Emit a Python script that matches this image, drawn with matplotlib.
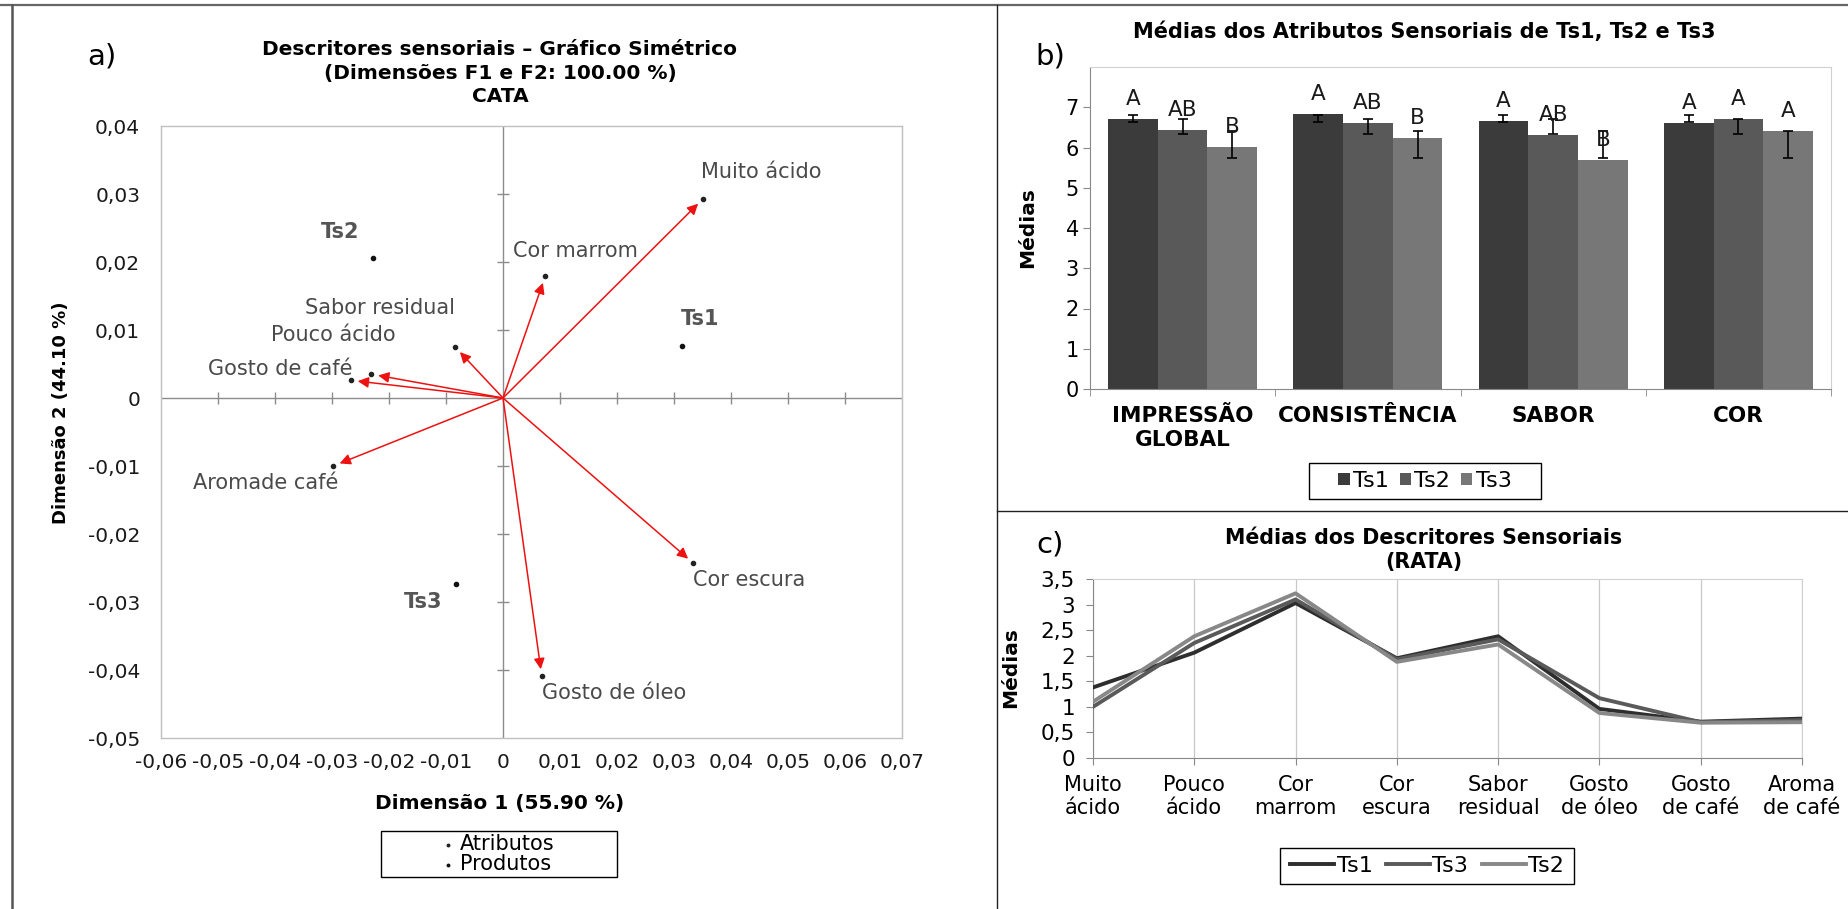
import numpy as np
import matplotlib
matplotlib.use('Agg')
import matplotlib.pyplot as plt
from matplotlib.lines import Line2D
from matplotlib.patches import Rectangle

# ---------------- data ----------------
# a) CATA - simetric plot
attr_names = ['Muito ácido', 'Cor marrom', 'Sabor residual', 'Pouco ácido',
              'Gosto de café', 'Aromade café', 'Cor escura', 'Gosto de óleo']
attr_x = [0.0351, 0.0074, -0.0084, -0.0231, -0.0267, -0.0298, 0.0334, 0.0068]
attr_y = [0.0293, 0.0179, 0.0075, 0.0035, 0.0026, -0.0100, -0.0243, -0.0409]

prod_names = ['Ts1', 'Ts2', 'Ts3']
prod_x = [0.0314, -0.0228, -0.0082]
prod_y = [0.0076, 0.0206, -0.0274]

a_xticks = [-0.06, -0.05, -0.04, -0.03, -0.02, -0.01, 0, 0.01, 0.02, 0.03, 0.04, 0.05, 0.06, 0.07]
a_yticks = [-0.05, -0.04, -0.03, -0.02, -0.01, 0, 0.01, 0.02, 0.03, 0.04]

# b) sensory attribute means
attr_cats = ['IMPRESSÃO\nGLOBAL', 'CONSISTÊNCIA', 'SABOR', 'COR']
ts1_mean = [6.71, 6.84, 6.65, 6.61]
ts2_mean = [6.43, 6.62, 6.30, 6.71]
ts3_mean = [6.02, 6.24, 5.68, 6.42]
ts1_lo = [6.64, 6.63, 6.63, 6.63]
ts1_hi = [6.81, 6.81, 6.81, 6.81]
ts2_lo = [6.33, 6.33, 6.33, 6.33]
ts2_hi = [6.71, 6.71, 6.71, 6.71]
ts3_lo = [5.75, 5.75, 5.75, 5.75]
ts3_hi = [6.41, 6.42, 6.42, 6.42]
ts1_let = ['A', 'A', 'A', 'A']
ts2_let = ['AB', 'AB', 'AB', 'A']
ts3_let = ['B', 'B', 'B', 'A']

# c) RATA descriptor means
desc_cats = ['Muito\nácido', 'Pouco\nácido', 'Cor\nmarrom', 'Cor\nescura',
             'Sabor\nresidual', 'Gosto\nde óleo', 'Gosto\nde café', 'Aroma\nde café']
ts1_rata = [1.38, 2.06, 3.03, 1.95, 2.38, 0.96, 0.71, 0.77]
ts3_rata = [1.00, 2.25, 3.10, 1.93, 2.32, 1.17, 0.70, 0.74]
ts2_rata = [1.10, 2.38, 3.22, 1.88, 2.22, 0.88, 0.69, 0.70]

# ---------------- layout helpers ----------------
W, H = 1849, 909
PX = 72 / 100  # points per pixel


def rect(l, t, r, b):
    return [l / W, 1 - b / H, (r - l) / W, (b - t) / H]


def fx(x):
    return x / W


def fy(y):
    return 1 - y / H


def box(fig, l, t, r, b):
    fig.add_artist(Rectangle((fx(l), fy(b)), (r - l) / W, (b - t) / H,
                             transform=fig.transFigure, fill=False,
                             ec='black', lw=1.0))


def fline(fig, x0, y0, x1, y1, color, lw):
    fig.add_artist(Line2D([fx(x0), fx(x1)], [fy(y0), fy(y1)],
                          transform=fig.transFigure, color=color, lw=lw))


def comma(v):
    if v == 0:
        return '0'
    return f'{v:.2f}'.replace('.', ',')


fig = plt.figure(figsize=(W / 100, H / 100), dpi=100)

# frame lines
fline(fig, 0, 5, W, 5, '#666666', 1.6)
fline(fig, 12, 5, 12, H, '#555555', 1.8)
fline(fig, 997, 5, 997, H, '#222222', 1.0)
fline(fig, 997, 511, W, 511, '#222222', 1.0)

# ---------------- panel a ----------------
ax = fig.add_axes(rect(161, 126, 902, 738))
ax.set_xlim(-0.06, 0.07)
ax.set_ylim(-0.05, 0.04)
for s in ax.spines.values():
    s.set_color('#c0c0c0')
    s.set_linewidth(1.0)
ax.axhline(0, color='#8c8c8c', lw=1.0, zorder=1)
ax.axvline(0, color='#8c8c8c', lw=1.0, zorder=1)
inner_x = [v for v in a_xticks[1:-1] if v != 0]
inner_y = [v for v in a_yticks[1:-1] if v != 0]
ax.plot(inner_x, [0] * len(inner_x), ls='none', marker='|', ms=9, mew=1.0, color='#8c8c8c')
ax.plot([0] * len(inner_y), inner_y, ls='none', marker='_', ms=9, mew=1.0, color='#8c8c8c')

ax.set_xticks(a_xticks)
ax.set_xticklabels([comma(v) for v in a_xticks])
ax.set_yticks(a_yticks)
ax.set_yticklabels([comma(v) for v in a_yticks])
ax.tick_params(axis='x', length=0, pad=11, labelsize=14.5, labelcolor='#1a1a1a')
ax.tick_params(axis='y', length=0, pad=15, labelsize=14.5, labelcolor='#1a1a1a')

for name, x, y in zip(attr_names, attr_x, attr_y):
    ax.annotate('', xy=(x, y), xytext=(0, 0),
                arrowprops=dict(arrowstyle='-|>', color='#ee1111', lw=1.1,
                                mutation_scale=16, shrinkA=0, shrinkB=5))
att_pts = ax.scatter(attr_x, attr_y, s=9, color='#222222', zorder=3)
prd_pts = ax.scatter(prod_x, prod_y, s=9, color='#111111', zorder=3)

# label placement (pixel offsets, alignment)
attr_lab = {
    'Muito ácido': (-2, 27, 'left'),
    'Cor marrom': (-32, 25, 'left'),
    'Sabor residual': (0, 39, 'right'),
    'Pouco ácido': (24, 39, 'right'),
    'Gosto de café': (2, 11, 'right'),
    'Aromade café': (5, -17, 'right'),
    'Cor escura': (0, -17, 'left'),
    'Gosto de óleo': (0, -17, 'left'),
}
prod_lab = {
    'Ts1': (18, 27, 'center'),
    'Ts2': (-33, 26, 'center'),
    'Ts3': (-14, -18, 'right'),
}
for name, x, y in zip(attr_names, attr_x, attr_y):
    dx, dy, ha = attr_lab[name]
    ax.annotate(name, (x, y), xytext=(dx * PX, dy * PX), textcoords='offset points',
                ha=ha, va='center', fontsize=15, color='#4a4a4a')
for name, x, y in zip(prod_names, prod_x, prod_y):
    dx, dy, ha = prod_lab[name]
    ax.annotate(name, (x, y), xytext=(dx * PX, dy * PX), textcoords='offset points',
                ha=ha, va='center', fontsize=15, color='#555555', fontweight='bold')

fig.text(fx(500), fy(73), 'Descritores sensoriais – Gráfico Simétrico\n(Dimensões F1 e F2: 100.00 %)\nCATA',
         ha='center', va='center', fontsize=14.5, fontweight='bold', linespacing=1.32)
fig.text(fx(102), fy(57), 'a)', ha='center', va='center', fontsize=21)
fig.text(fx(500), fy(804), 'Dimensão 1 (55.90 %)', ha='center', va='center',
         fontsize=14.5, fontweight='bold')
fig.text(fx(61), fy(413), 'Dimensão 2 (44.10 %)', ha='center', va='center',
         fontsize=13, fontweight='bold', rotation=90)

box(fig, 381, 831, 617, 877)
fig.legend([att_pts, prd_pts], ['Atributos', 'Produtos'], loc='center',
           bbox_to_anchor=(fx(499), fy(854)), frameon=False, fontsize=15,
           markerscale=0.6, handlelength=0.4, handletextpad=0.4, labelspacing=0.0,
           borderpad=0.1)

# ---------------- panel b ----------------
bx = fig.add_axes(rect(1090, 67, 1831, 389))
xc = np.arange(len(attr_cats))
bw = 0.268
bar_cols = ['#3b3b3b', '#595959', '#777777']
series = [('Ts1', ts1_mean, ts1_lo, ts1_hi, ts1_let),
          ('Ts2', ts2_mean, ts2_lo, ts2_hi, ts2_let),
          ('Ts3', ts3_mean, ts3_lo, ts3_hi, ts3_let)]
bar_handles = []
for i, (name, m, lo, hi, let) in enumerate(series):
    pos = xc + (i - 1) * bw
    bars = bx.bar(pos, m, width=bw, color=bar_cols[i], label=name, zorder=2)
    bar_handles.append(bars)
    lo = np.array(lo)
    hi = np.array(hi)
    bx.errorbar(pos, (lo + hi) / 2, yerr=(hi - lo) / 2, fmt='none', ecolor='black',
                elinewidth=1.2, capsize=3.5, capthick=1.2, zorder=3)
    for p, v, t in zip(pos, m, let):
        bx.annotate(t, (p, v), xytext=(0, 20 * PX), textcoords='offset points',
                    ha='center', va='center', fontsize=15.5, color='#1a1a1a', zorder=4)

bx.set_xlim(-0.5, len(attr_cats) - 0.5)
bx.set_ylim(0, 8)
bx.set_yticks(range(0, 8))
bx.set_xticks(xc)
bx.set_xticklabels(attr_cats, fontweight='bold', fontsize=15.5, linespacing=1.25)
bx.set_xticks(np.arange(-0.5, len(attr_cats)), minor=True)
bx.tick_params(axis='x', which='major', length=0, pad=12)
bx.tick_params(axis='x', which='minor', length=5, color='#888888')
bx.tick_params(axis='y', length=5, color='#888888', labelsize=15, pad=3)
for s in ['top', 'right']:
    bx.spines[s].set_color('#d0d0d0')
for s in ['left', 'bottom']:
    bx.spines[s].set_color('#888888')
bx.set_ylabel('Médias', fontsize=14.5, fontweight='bold')
bx.yaxis.set_label_coords((1037 - 1090) / (1831 - 1090), (389 - 228) / (389 - 67))

fig.text(fx(1424), fy(32), 'Médias dos Atributos Sensoriais de Ts1, Ts2 e Ts3',
         ha='center', va='center', fontsize=15, fontweight='bold')
fig.text(fx(1050), fy(57), 'b)', ha='center', va='center', fontsize=21)

box(fig, 1309, 463, 1541, 499)
fig.legend(bar_handles, [s[0] for s in series], loc='center',
           bbox_to_anchor=(fx(1425), fy(481)), frameon=False, fontsize=16, ncol=3,
           handlelength=0.5, handleheight=0.5, handletextpad=0.15, columnspacing=0.5,
           borderpad=0.1)

# ---------------- panel c ----------------
cx = fig.add_axes(rect(1093, 579, 1802, 758))
xd = np.arange(len(desc_cats))
line_series = [('Ts1', ts1_rata, '#2e2e2e'),
               ('Ts3', ts3_rata, '#5a5a5a'),
               ('Ts2', ts2_rata, '#888888')]
line_handles = []
for name, vals, col in line_series:
    ln, = cx.plot(xd, vals, color=col, lw=2.8, label=name, zorder=3)
    line_handles.append(ln)
cx.set_xlim(0, len(desc_cats) - 1)
cx.set_ylim(0, 3.5)
cx.set_yticks(np.arange(0, 3.51, 0.5))
cx.set_yticklabels([f'{v:g}'.replace('.', ',') for v in np.arange(0, 3.51, 0.5)])
cx.set_xticks(xd)
cx.set_xticklabels(desc_cats, fontsize=15, linespacing=1.2)
cx.grid(axis='x', color='#c8c8c8', lw=0.9, zorder=0)
cx.tick_params(axis='x', length=5, color='#888888', pad=7)
cx.tick_params(axis='y', length=5, color='#888888', labelsize=15.5, pad=8)
for s in ['top', 'right']:
    cx.spines[s].set_color('#d0d0d0')
for s in ['left', 'bottom']:
    cx.spines[s].set_color('#888888')
cx.set_ylabel('Médias', fontsize=14.5, fontweight='bold')
cx.yaxis.set_label_coords((1020 - 1093) / (1802 - 1093), (758 - 668) / (758 - 579))

fig.text(fx(1424), fy(550), 'Médias dos Descritores Sensoriais\n(RATA)',
         ha='center', va='center', fontsize=14.8, fontweight='bold', linespacing=1.25)
fig.text(fx(1050), fy(545), 'c)', ha='center', va='center', fontsize=21)

box(fig, 1280, 848, 1574, 884)
fig.legend(line_handles, [s[0] for s in line_series], loc='center',
           bbox_to_anchor=(fx(1427), fy(866)), frameon=False, fontsize=16, ncol=3,
           handlelength=2.0, handletextpad=0.1, columnspacing=0.6, borderpad=0.1)

fig.savefig('out.png', dpi=100)
